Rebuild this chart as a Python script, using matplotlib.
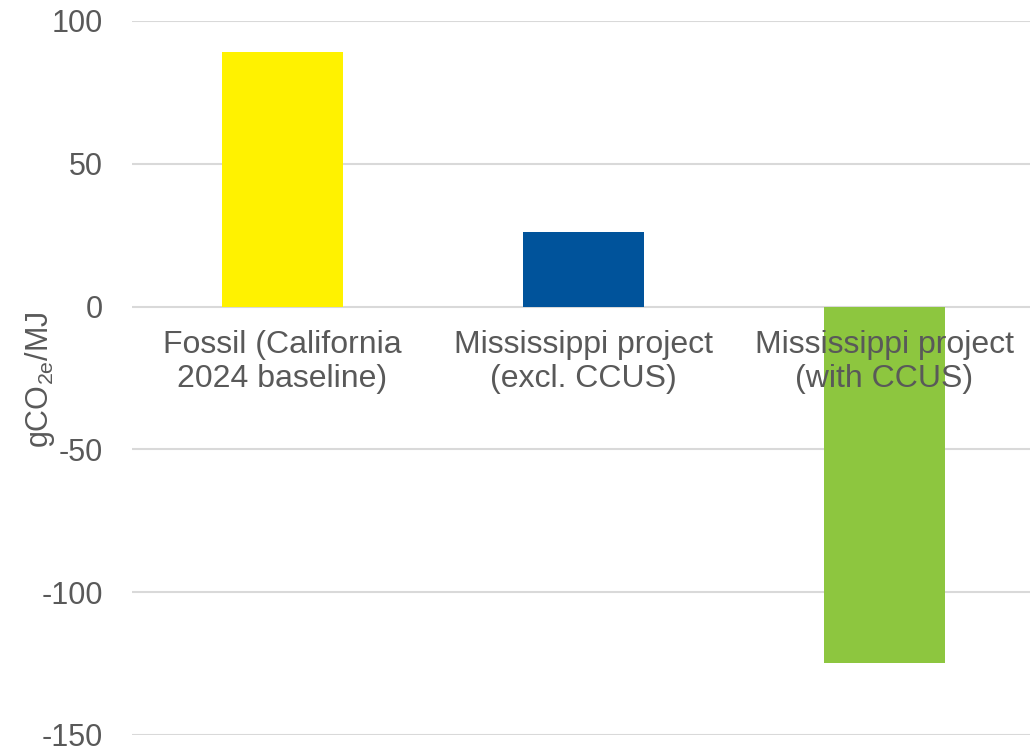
import matplotlib.pyplot as plt
import numpy as np

plt.rcParams['font.family'] = ['Liberation Sans', 'DejaVu Sans']
plt.rcParams['mathtext.fontset'] = 'custom'
plt.rcParams['mathtext.rm'] = 'Liberation Sans'

# Intensidad de carbono por caso
categorias = ['Fossil (California\n2024 baseline)',
              'Mississippi project\n(excl. CCUS)',
              'Mississippi project\n(with CCUS)']
valores = [89.2, 26.2, -124.8]
colores = ['#FFF200', '#00539B', '#8DC63F']
yticks = [-150, -100, -50, 0, 50, 100]

gris = '#595959'

fig = plt.figure(figsize=(10.30, 7.49), dpi=100)
ax = fig.add_axes([132/1030, 1 - 735/749, 903/1030, 714/749])

x = np.arange(len(categorias))
ax.bar(x, valores, width=0.40, color=colores, zorder=2)

ax.set_xlim(-0.5, 2.5)
ax.set_ylim(-150, 100)
ax.set_yticks(yticks)
ax.set_yticklabels([str(v) for v in yticks])
ax.set_xticks([])
ax.grid(axis='y', color='#d9d9d9', linewidth=1.5, zorder=0)
ax.set_axisbelow(True)
for s in ax.spines.values():
    s.set_visible(False)
ax.tick_params(axis='y', length=0, pad=21, labelsize=22, labelcolor=gris)

# etiquetas de categoria debajo de la linea del cero
for xi, lab in zip(x, categorias):
    ax.annotate(lab, xy=(xi, 0), xytext=(0, -17), textcoords='offset points',
                ha='center', va='top', fontsize=23, color=gris,
                linespacing=1.15, zorder=5)

fig.text(40/1030, 1 - 380/749, r'gCO$_{\mathregular{2e}}$/MJ', rotation=90,
         ha='center', va='center', fontsize=22, color=gris)

plt.savefig('out.png', dpi=100)
